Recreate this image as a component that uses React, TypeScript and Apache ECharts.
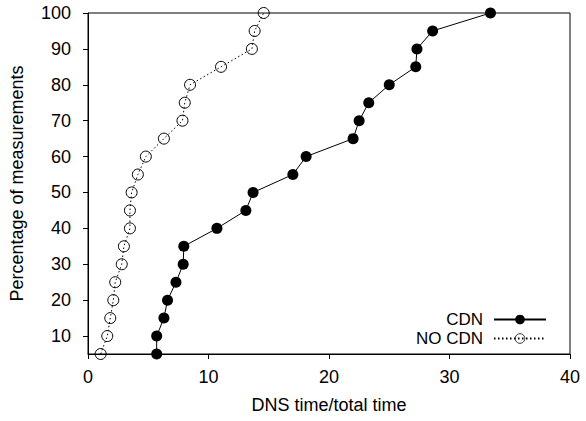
import React, { useEffect, useRef } from "react";
import * as echarts from "echarts";

const yLevels = [5, 10, 15, 20, 25, 30, 35, 40, 45, 50, 55, 60, 65, 70, 75, 80, 85, 90, 95, 100];
const cdnX = [5.7, 5.7, 6.3, 6.6, 7.3, 7.9, 7.95, 10.7, 13.1, 13.7, 17.0, 18.1, 22.0, 22.5, 23.3, 25.0, 27.2, 27.3, 28.6, 33.4];
const noCdnX = [1.05, 1.6, 1.85, 2.1, 2.26, 2.8, 2.98, 3.48, 3.48, 3.62, 4.14, 4.8, 6.3, 7.84, 8.03, 8.47, 11.04, 13.6, 13.83, 14.58];
const yTicks = [10, 20, 30, 40, 50, 60, 70, 80, 90, 100];
const seriesNames = ["CDN", "NO CDN"];

const FONT = "'Liberation Sans', Arial, sans-serif";

export default function App() {
  const ref = useRef<HTMLDivElement>(null);
  useEffect(() => {
    if (!ref.current) return;
    const chart = echarts.init(ref.current, null, { renderer: "svg" });
    const cdnData = cdnX.map((x, i) => [x, yLevels[i]]);
    const noCdnData = noCdnX.map((x, i) => [x, yLevels[i]]);
    chart.setOption({
      animation: false,
      backgroundColor: "#fff",
      textStyle: { fontFamily: FONT },
      grid: {
        left: 87,
        right: 16,
        top: 13,
        bottom: 67,
        show: true,
        borderColor: "#000",
        borderWidth: 1,
      },
      legend: {
        orient: "vertical",
        right: 34,
        top: 305,
        align: "right",
        itemWidth: 52,
        itemHeight: 12,
        itemGap: 0,
        data: [
          { name: seriesNames[0], itemStyle: { borderWidth: 0 } },
          { name: seriesNames[1], itemStyle: { borderWidth: 0.8 } },
        ],
        textStyle: {
          fontFamily: FONT,
          fontSize: 17,
          color: "#000",
          lineHeight: 19,
          padding: [0, 6, 0, 0],
        },
      },
      xAxis: {
        type: "value",
        min: 0,
        max: 40,
        interval: 10,
        name: "DNS time/total time",
        nameLocation: "middle",
        nameGap: 42,
        nameTextStyle: { fontFamily: FONT, fontSize: 18, color: "#000" },
        axisLine: { show: true, lineStyle: { color: "#000", width: 1 } },
        axisTick: { show: true, length: 5, lineStyle: { color: "#000" } },
        axisLabel: { fontFamily: FONT, fontSize: 18, color: "#000", margin: 14 },
        splitLine: { show: false },
      },
      yAxis: {
        type: "value",
        min: 5,
        max: 100,
        name: "Percentage of measurements",
        nameLocation: "middle",
        nameGap: 62,
        nameTextStyle: { fontFamily: FONT, fontSize: 18, color: "#000" },
        axisLine: { show: true, lineStyle: { color: "#000", width: 1 } },
        axisTick: { show: true, length: 5, lineStyle: { color: "#000" }, customValues: yTicks },
        axisLabel: { fontFamily: FONT, fontSize: 18, color: "#000", margin: 17, customValues: yTicks },
        splitLine: { show: false },
      },
      series: [
        {
          name: seriesNames[0],
          type: "line",
          data: cdnData,
          symbol: "circle",
          symbolSize: 11,
          lineStyle: { color: "#000", width: 1, type: "solid" },
          itemStyle: { color: "#000", borderColor: "#000", borderWidth: 0 },
          z: 3,
        },
        {
          name: seriesNames[1],
          type: "line",
          data: noCdnData,
          symbol: "circle",
          symbolSize: 11,
          lineStyle: { color: "#000", width: 1, type: [1.5, 2.5] },
          itemStyle: { color: "rgba(255,255,255,0)", borderColor: "#000", borderWidth: 1 },
          z: 2,
        },
      ],
    });
    return () => chart.dispose();
  }, []);
  return <div ref={ref} style={{ width: 586, height: 421, position: "absolute", left: 0, top: 0 }} />;
}
